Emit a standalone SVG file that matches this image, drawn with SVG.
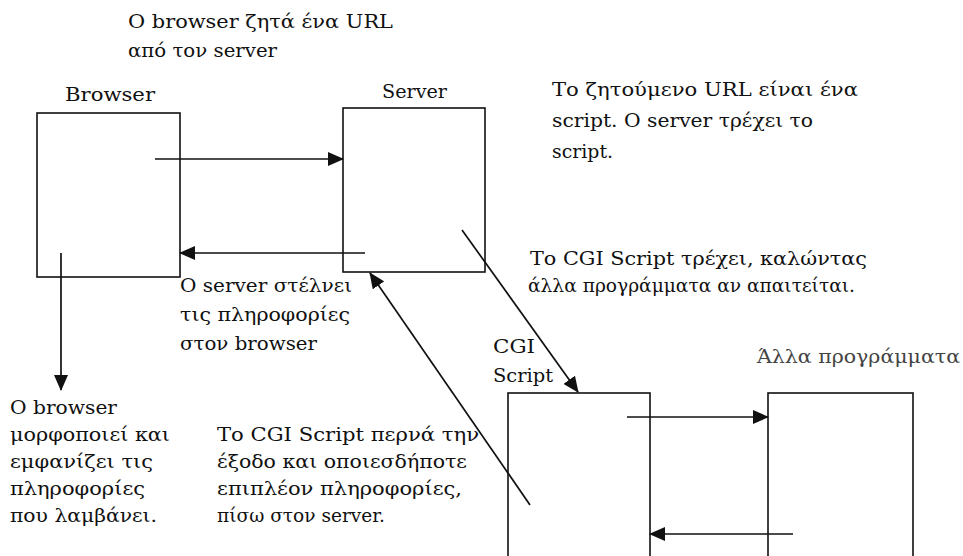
<svg xmlns="http://www.w3.org/2000/svg" width="963" height="556" viewBox="0 0 963 556">
<style>
text{font-family:"DejaVu Serif","Liberation Serif",serif;font-size:19px;fill:#111}
.box{fill:none;stroke:#111;stroke-width:1.6}
.con{fill:none;stroke:#111;stroke-width:1.7}
.faint{fill:#444}
</style>
<defs>
<marker id="ah" markerUnits="userSpaceOnUse" markerWidth="16" markerHeight="14" refX="15" refY="7" orient="auto">
<path d="M0,0 L16,7 L0,14 z" fill="#111"/>
</marker>
</defs>
<rect width="963" height="556" fill="#fff"/>
<g id="browser">
<rect class="box" x="37" y="113" width="143" height="164"/>
<text x="65" y="101" textLength="90" lengthAdjust="spacingAndGlyphs">Browser</text>
</g>
<g id="server">
<rect class="box" x="343" y="108" width="142" height="164"/>
<text x="382" y="98" textLength="65" lengthAdjust="spacingAndGlyphs">Server</text>
</g>
<g id="cgi">
<rect class="box" x="508" y="393" width="142" height="180"/>
<text x="493" y="353" textLength="42" lengthAdjust="spacingAndGlyphs">CGI</text>
<text x="493" y="382" textLength="60" lengthAdjust="spacingAndGlyphs">Script</text>
</g>
<g id="other">
<rect class="box" x="768" y="393" width="145" height="180"/>
<text class="faint" x="757" y="363" textLength="203" lengthAdjust="spacingAndGlyphs">Άλλα προγράμματα</text>
</g>
<g id="connectors">
<line class="con" x1="155" y1="159" x2="343" y2="159" marker-end="url(#ah)"/>
<line class="con" x1="365" y1="253" x2="180" y2="253" marker-end="url(#ah)"/>
<line class="con" x1="61" y1="253" x2="61" y2="390" marker-end="url(#ah)"/>
<line class="con" x1="462" y1="230" x2="578" y2="392" marker-end="url(#ah)"/>
<line class="con" x1="530" y1="505" x2="370" y2="273" marker-end="url(#ah)"/>
<line class="con" x1="627" y1="417" x2="768" y2="417" marker-end="url(#ah)"/>
<line class="con" x1="793" y1="534" x2="650" y2="534" marker-end="url(#ah)"/>
</g>
<g id="labels">
<text x="128" y="28" textLength="265" lengthAdjust="spacingAndGlyphs">Ο browser ζητά ένα URL</text>
<text x="128" y="57" textLength="149" lengthAdjust="spacingAndGlyphs">από τον server</text>
<text x="552" y="96" textLength="306" lengthAdjust="spacingAndGlyphs">Το ζητούμενο URL είναι ένα</text>
<text x="552" y="127" textLength="261" lengthAdjust="spacingAndGlyphs">script. Ο server τρέχει το</text>
<text x="552" y="158" textLength="61" lengthAdjust="spacingAndGlyphs">script.</text>
<text x="530" y="265" textLength="337" lengthAdjust="spacingAndGlyphs">Το CGI Script τρέχει, καλώντας</text>
<text x="528" y="292" textLength="327" lengthAdjust="spacingAndGlyphs">άλλα προγράμματα αν απαιτείται.</text>
<text x="180" y="292" textLength="172" lengthAdjust="spacingAndGlyphs">Ο server στέλνει</text>
<text x="180" y="321" textLength="170" lengthAdjust="spacingAndGlyphs">τις πληροφορίες</text>
<text x="180" y="350" textLength="137" lengthAdjust="spacingAndGlyphs">στον browser</text>
<text x="10" y="414" textLength="107" lengthAdjust="spacingAndGlyphs">Ο browser</text>
<text x="10" y="441" textLength="160" lengthAdjust="spacingAndGlyphs">μορφοποιεί και</text>
<text x="10" y="468" textLength="143" lengthAdjust="spacingAndGlyphs">εμφανίζει τις</text>
<text x="10" y="495" textLength="135" lengthAdjust="spacingAndGlyphs">πληροφορίες</text>
<text x="10" y="522" textLength="147" lengthAdjust="spacingAndGlyphs">που λαμβάνει.</text>
<text x="217" y="441" textLength="262" lengthAdjust="spacingAndGlyphs">Το CGI Script περνά την</text>
<text x="217" y="468" textLength="250" lengthAdjust="spacingAndGlyphs">έξοδο και οποιεσδήποτε</text>
<text x="217" y="495" textLength="245" lengthAdjust="spacingAndGlyphs">επιπλέον πληροφορίες,</text>
<text x="217" y="522" textLength="168" lengthAdjust="spacingAndGlyphs">πίσω στον server.</text>
</g>
</svg>
